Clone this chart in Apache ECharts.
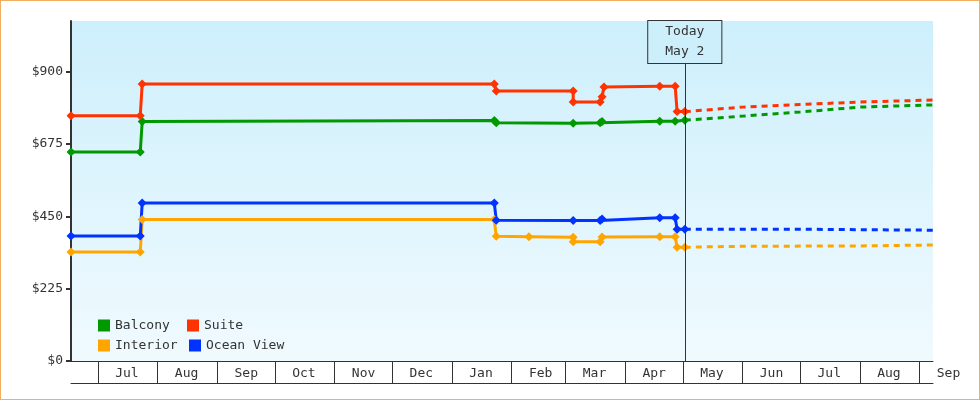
<!DOCTYPE html>
<html><head><meta charset="utf-8">
<script src="https://cdn.jsdelivr.net/npm/echarts@6/dist/echarts.min.js"></script>
<style>html,body{margin:0;padding:0;background:#fff}#c{width:978px;height:398px;border:1px solid #f0b060}</style>
</head><body><div id="c"></div>
<script>
const balcony = [['2024-06-17',650],['2024-07-23',650],['2024-07-24',745],['2025-01-23',748],['2025-01-24',741],['2025-03-05',740],['2025-03-19',741],['2025-03-20',745],['2025-04-19',746],['2025-04-27',746],['2025-05-02',749]];
const suite = [['2024-06-17',763],['2024-07-23',763],['2024-07-24',862],['2025-01-23',862],['2025-01-24',840],['2025-03-05',840],['2025-03-05',806],['2025-03-19',806],['2025-03-20',822],['2025-03-21',853],['2025-04-19',855],['2025-04-27',855],['2025-04-28',776],['2025-05-02',776]];
const oceanView = [['2024-06-17',389],['2024-07-23',389],['2024-07-24',492],['2025-01-23',492],['2025-01-24',438],['2025-03-05',437],['2025-03-19',437],['2025-03-20',442],['2025-04-19',446],['2025-04-27',446],['2025-04-28',410],['2025-05-02',410]];
const interior = [['2024-06-17',339],['2024-07-23',339],['2024-07-24',440],['2025-01-23',440],['2025-01-24',388],['2025-02-10',387],['2025-03-05',385],['2025-03-05',371],['2025-03-19',371],['2025-03-20',386],['2025-04-19',387],['2025-04-27',387],['2025-04-28',354],['2025-05-02',354]];
const balconyForecast = [['2025-05-02',749],['2025-06-01',762],['2025-07-01',775],['2025-08-01',790],['2025-09-08',797]];
const suiteForecast = [['2025-05-02',776],['2025-06-01',790],['2025-07-01',798],['2025-08-01',806],['2025-09-08',812]];
const oceanForecast = [['2025-05-02',410],['2025-07-01',410],['2025-07-02',407],['2025-09-08',407]];
const interiorForecast = [['2025-05-02',354],['2025-06-01',357],['2025-08-01',358],['2025-08-02',361],['2025-09-08',361]];
const yTicks = [0,225,450,675,900];
const todayDate = '2025-05-02';
const monthNames = ['Jan','Feb','Mar','Apr','May','Jun','Jul','Aug','Sep','Oct','Nov','Dec'];

const F = 'DejaVu Sans Mono';
const C = {Balcony:'#009900', Suite:'#ff3300', Interior:'#ffa500', 'Ocean View':'#0033ff'};
function solid(name, data){return {name, type:'line', data, color:C[name], symbol:'diamond', symbolSize:9, lineStyle:{width:3}, z:3};}
function dash(name, data){return {name:name+' forecast', type:'line', data, color:C[name], symbol:'none', lineStyle:{width:3,type:[6,5]}, z:2};}
function leg(name,left,top){return {data:[name], left, top, itemWidth:12, itemHeight:12, icon:'rect', textStyle:{fontFamily:F,fontSize:13,color:'#333'}};}
const xMin = +new Date('2024-06-17'), xMax = +new Date('2025-09-08');
const DAY = 86400000;
const chart = echarts.init(document.getElementById('c'));
chart.setOption({
  animation:false,
  grid:{left:70,right:46,top:20,bottom:38,show:true,borderWidth:0,
    backgroundColor:{type:'linear',x:0,y:0,x2:0,y2:1,colorStops:[{offset:0,color:'#cdeffc'},{offset:1,color:'#f0fafe'}]}},
  legend:[leg('Balcony',92,313),leg('Suite',181,313),leg('Interior',92,333),leg('Ocean View',183,333)],
  xAxis:[{type:'time',min:xMin,max:xMax,minInterval:28*DAY,maxInterval:31*DAY,
    axisLine:{lineStyle:{color:'#333',width:1}},
    axisTick:{show:true,length:22,lineStyle:{color:'#333'}},
    splitLine:{show:false},
    axisLabel:{fontFamily:F,fontSize:13,color:'#333',margin:6,padding:[0,0,0,58],align:'center',showMinLabel:false,
      formatter:v=>monthNames[new Date(v).getMonth()]}},
   {type:'time',min:xMin,max:xMax,position:'bottom',offset:22,axisLine:{lineStyle:{color:'#333'}},axisTick:{show:false},axisLabel:{show:false},splitLine:{show:false}}],
  yAxis:{type:'value',min:0,max:1058,interval:225,
    axisLine:{show:true,lineStyle:{color:'#333',width:2}},
    axisTick:{show:true,length:5,lineStyle:{color:'#333',width:2}},
    splitLine:{show:false},
    axisLabel:{fontFamily:F,fontSize:13,color:'#333',showMaxLabel:false,formatter:v=>yTicks.includes(v)?'$'+v:''}},
  series:[
    solid('Balcony',balcony),solid('Suite',suite),solid('Interior',interior),solid('Ocean View',oceanView),
    dash('Balcony',balconyForecast),dash('Suite',suiteForecast),dash('Interior',interiorForecast),dash('Ocean View',oceanForecast),
    {type:'line',data:[],markLine:{silent:true,symbol:'none',lineStyle:{color:'#333',width:1,type:'solid'},
      label:{show:true,position:'end',distance:0,formatter:'Today\nMay 2',fontFamily:F,fontSize:13,color:'#333',lineHeight:20,
        backgroundColor:'#cdeffc',borderColor:'#333',borderWidth:1,padding:[1,17,1,17]},
      data:[[{coord:[todayDate,0]},{coord:[todayDate,927]}]]}}
  ]
});
</script></body></html>
